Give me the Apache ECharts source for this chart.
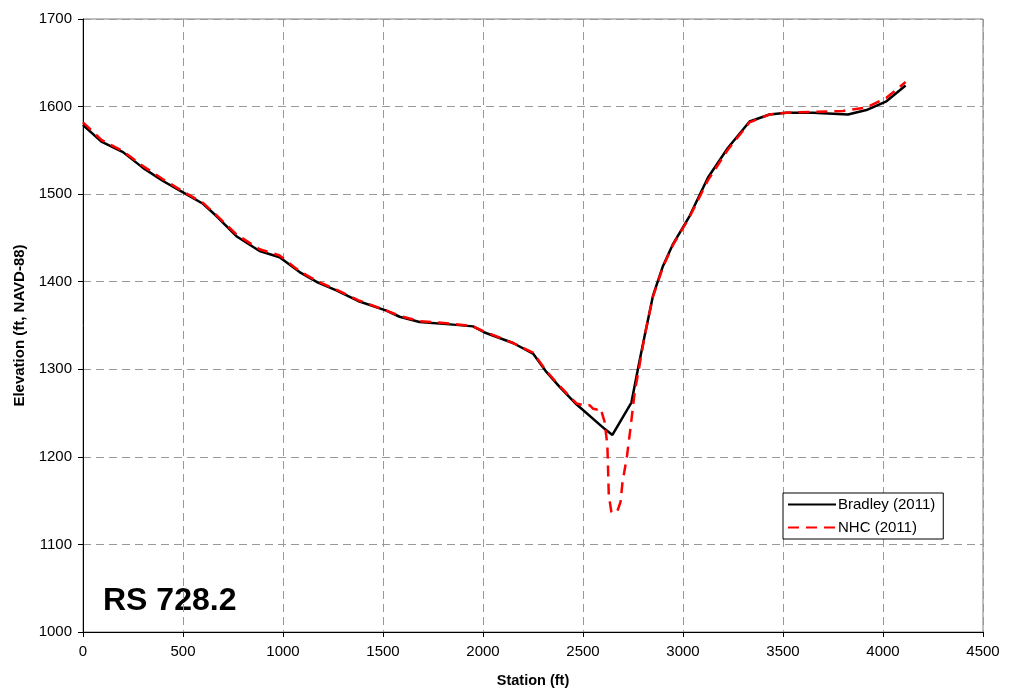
<!DOCTYPE html>
<html>
<head>
<meta charset="utf-8">
<script src="https://cdn.jsdelivr.net/npm/echarts@6/dist/echarts.min.js"></script>
<style>html,body{margin:0;padding:0;background:#fff;}#c{width:1009px;height:693px;}</style>
</head>
<body>
<div id="c"></div>
<script>
var xTicks = [0, 500, 1000, 1500, 2000, 2500, 3000, 3500, 4000, 4500];
var yTicks = [1000, 1100, 1200, 1300, 1400, 1500, 1600, 1700];

var bradleyStation = [0, 92, 200, 300, 400, 500, 600, 667, 767, 883, 983, 1083, 1175, 1267, 1375, 1517, 1583, 1683, 1850, 1950, 2008, 2150, 2250, 2317, 2383, 2467, 2608, 2647, 2742, 2783, 2808, 2850, 2900, 2950, 3033, 3125, 3225, 3333, 3433, 3517, 3650, 3825, 3917, 4017, 4113];
var bradleyElev = [1579, 1560, 1548, 1530, 1515, 1502, 1489, 1475, 1452, 1435, 1428, 1411, 1399, 1390, 1378, 1367, 1360, 1354, 1351, 1349, 1342, 1330, 1318, 1297, 1280, 1260, 1232, 1225, 1262, 1310, 1338, 1384, 1418, 1443, 1475, 1519, 1553, 1583, 1591, 1593, 1593, 1591, 1596, 1606, 1624];

var nhcStation = [0, 92, 200, 300, 400, 500, 600, 667, 767, 883, 983, 1083, 1175, 1267, 1375, 1517, 1583, 1683, 1850, 1950, 2008, 2150, 2250, 2317, 2383, 2467, 2517, 2533, 2550, 2570, 2583, 2595, 2608, 2622, 2629, 2642, 2662, 2675, 2688, 2697, 2720, 2737, 2758, 2783, 2808, 2850, 2900, 2950, 3033, 3125, 3225, 3333, 3433, 3517, 3650, 3800, 3917, 4017, 4113];
var nhcElev = [1582, 1562, 1549, 1532, 1517, 1503, 1490, 1476, 1454, 1437, 1430, 1412, 1400, 1391, 1379, 1367, 1361, 1355, 1352, 1349, 1343, 1330, 1319, 1298, 1281, 1261, 1258, 1259, 1255, 1254, 1256, 1250, 1240, 1213, 1156, 1137, 1136, 1140, 1149, 1170, 1201, 1232, 1273, 1305, 1338, 1383, 1417, 1442, 1474, 1516, 1551, 1582, 1591, 1593, 1594, 1595, 1599, 1610, 1628];

function pairs(xs, ys) { return xs.map(function (x, i) { return [x, ys[i]]; }); }

var chart = echarts.init(document.getElementById('c'), null, { renderer: 'canvas' });
var font = 'Arial, "Liberation Sans", sans-serif';
chart.setOption({
  animation: false,
  backgroundColor: '#fff',
  grid: { left: 83, right: 26, top: 19, bottom: 61, show: true, borderColor: '#808080', borderWidth: 1, backgroundColor: 'transparent' },
  xAxis: {
    type: 'value', min: xTicks[0], max: xTicks[xTicks.length - 1], interval: 500,
    name: 'Station (ft)', nameLocation: 'middle', nameGap: 41,
    nameTextStyle: { fontFamily: font, fontSize: 14.5, fontWeight: 'bold', color: '#000' },
    axisLine: { show: true, onZero: false, lineStyle: { color: '#000', width: 1 } },
    axisTick: { show: true, inside: false, length: 5, lineStyle: { color: '#000' } },
    axisLabel: { fontFamily: font, fontSize: 15, color: '#000', margin: 12, formatter: function (v) { return String(v); } },
    splitLine: { show: true, lineStyle: { color: '#999', type: [8, 5], width: 1 } }
  },
  yAxis: {
    type: 'value', min: yTicks[0], max: yTicks[yTicks.length - 1], interval: 100,
    name: 'Elevation (ft, NAVD-88)', nameLocation: 'middle', nameGap: 56,
    nameTextStyle: { fontFamily: font, fontSize: 15, fontWeight: 'bold', color: '#000' },
    axisLine: { show: true, lineStyle: { color: '#000', width: 1 } },
    axisTick: { show: true, inside: false, length: 5, lineStyle: { color: '#000' } },
    axisLabel: { fontFamily: font, fontSize: 15, color: '#000', margin: 11, formatter: function (v) { return String(v); } },
    splitLine: { show: true, lineStyle: { color: '#999', type: [8, 5], width: 1 } }
  },
  legend: {
    orient: 'vertical', left: 783, top: 493,
    itemWidth: 48, itemHeight: 14, itemGap: 8,
    padding: [4, 8, 4, 4],
    borderColor: '#000', borderWidth: 1, backgroundColor: '#fff', borderRadius: 0,
    itemStyle: { opacity: 0 },
    textStyle: { fontFamily: font, fontSize: 15, color: '#000', padding: [0, 0, 0, -3] },
    data: ['Bradley (2011)', 'NHC (2011)']
  },
  graphic: [{
    type: 'text', left: 103, top: 585,
    style: { text: 'RS 728.2', font: 'bold 32px Arial, "Liberation Sans", sans-serif', fill: '#000' }
  }],
  series: [
    {
      name: 'Bradley (2011)', type: 'line', symbol: 'none', z: 2,
      lineStyle: { color: '#000', width: 2.5 }, itemStyle: { color: '#000' },
      data: pairs(bradleyStation, bradleyElev)
    },
    {
      name: 'NHC (2011)', type: 'line', symbol: 'none', z: 3,
      lineStyle: { color: '#ff0000', width: 2.5, type: [11, 7] }, itemStyle: { color: '#ff0000' },
      data: pairs(nhcStation, nhcElev)
    }
  ]
});
</script>
</body>
</html>
